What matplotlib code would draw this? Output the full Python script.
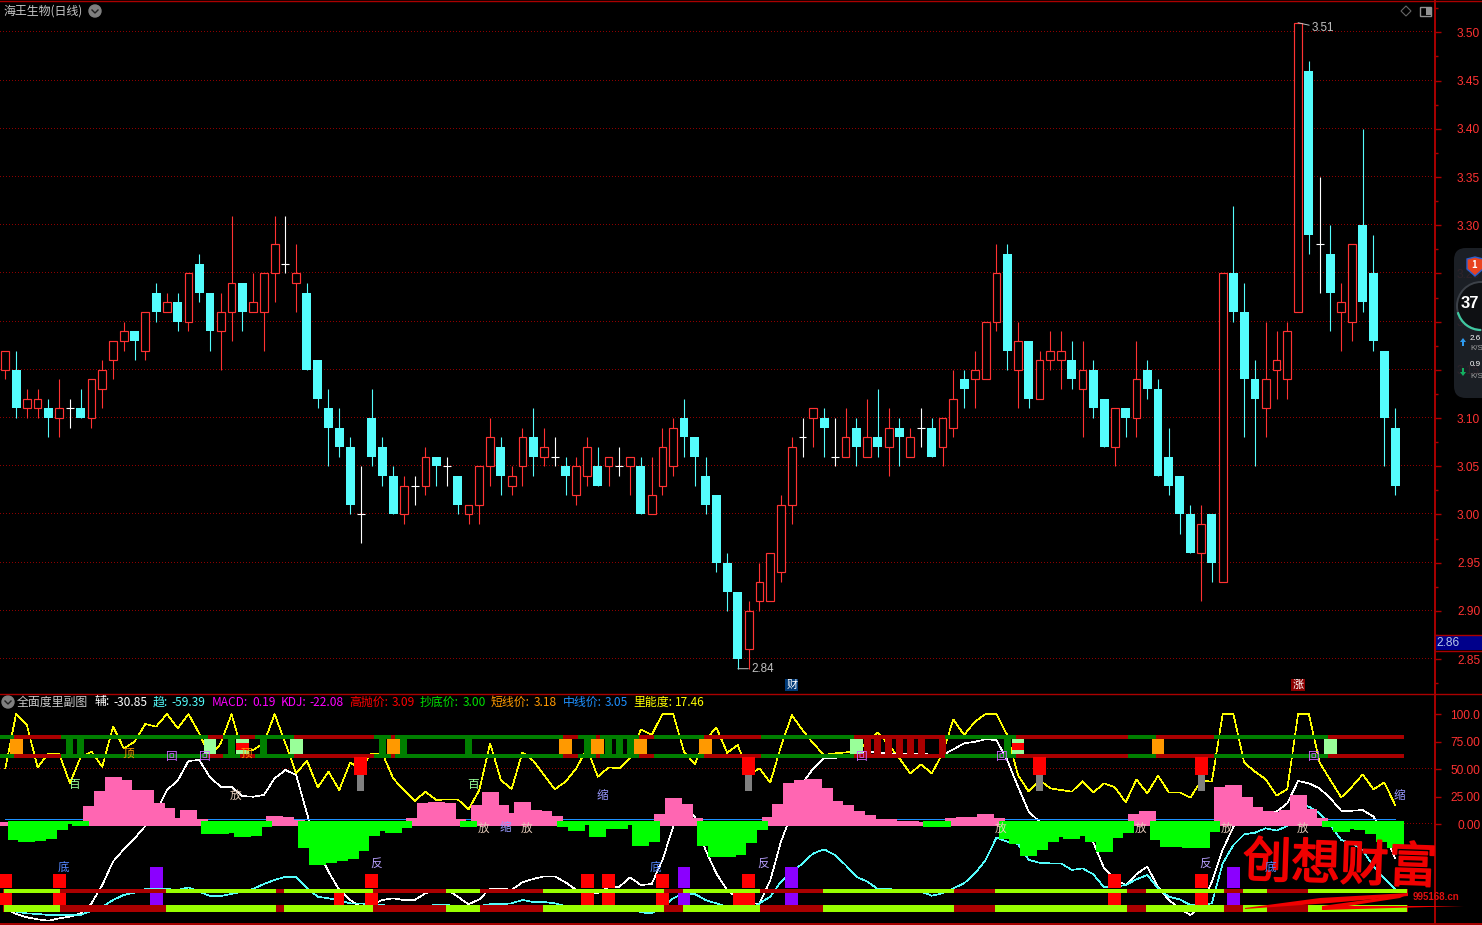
import matplotlib
matplotlib.use("Agg")
import matplotlib.pyplot as plt
import matplotlib.patheffects as pe
from matplotlib.patches import Circle, Rectangle, FancyBboxPatch, Polygon, Arc
import numpy as np

W, H = 1482, 925
cjk = ['Noto Sans CJK SC', 'DejaVu Sans']
plt.rcParams['font.family'] = cjk

# daily prices
opens = [3.15,3.15,3.11,3.11,3.11,3.10,3.11,3.11,3.10,3.13,3.16,3.18,3.19,3.17,3.23,3.21,3.22,3.20,3.26,3.23,
         3.19,3.21,3.24,3.21,3.21,3.25,3.26,3.24,3.23,3.16,3.11,3.09,3.07,3.00,3.10,3.07,3.04,3.00,3.03,3.03,
         3.06,3.05,3.04,3.00,3.01,3.05,3.07,3.03,3.05,3.08,3.06,3.06,3.05,3.02,3.04,3.05,3.05,3.05,3.05,3.05,
         3.00,3.03,3.05,3.10,3.08,3.04,3.02,2.95,2.92,2.86,2.91,2.91,2.94,3.01,3.08,3.10,3.10,3.06,3.06,3.09,
         3.06,3.08,3.07,3.09,3.06,3.09,3.09,3.07,3.09,3.14,3.14,3.14,3.20,3.27,3.15,3.18,3.12,3.16,3.16,3.16,
         3.13,3.15,3.12,3.07,3.11,3.10,3.15,3.13,3.06,3.04,3.00,2.96,3.00,2.93,3.25,3.21,3.14,3.11,3.15,3.14,
         3.21,3.46,3.28,3.27,3.21,3.20,3.30,3.25,3.17,3.09]
highs = [3.17,3.17,3.13,3.13,3.12,3.14,3.12,3.13,3.14,3.16,3.18,3.20,3.19,3.21,3.24,3.23,3.23,3.25,3.27,3.23,
         3.23,3.31,3.24,3.25,3.25,3.31,3.31,3.28,3.24,3.16,3.13,3.11,3.08,3.05,3.13,3.08,3.05,3.04,3.04,3.07,
         3.06,3.06,3.04,3.01,3.05,3.10,3.08,3.05,3.09,3.11,3.09,3.08,3.06,3.06,3.08,3.07,3.06,3.07,3.06,3.06,
         3.06,3.09,3.10,3.12,3.08,3.06,3.02,2.96,2.92,2.91,2.95,2.96,3.02,3.08,3.10,3.11,3.11,3.10,3.11,3.10,
         3.12,3.13,3.11,3.10,3.09,3.11,3.10,3.10,3.15,3.15,3.17,3.20,3.28,3.28,3.20,3.18,3.17,3.19,3.19,3.18,
         3.18,3.16,3.12,3.11,3.11,3.18,3.16,3.14,3.09,3.04,3.01,3.01,3.00,3.25,3.32,3.24,3.16,3.20,3.19,3.20,
         3.51,3.47,3.35,3.30,3.24,3.28,3.40,3.29,3.17,3.11]
lows = [3.14,3.10,3.10,3.10,3.08,3.08,3.09,3.10,3.09,3.11,3.14,3.17,3.16,3.16,3.20,3.21,3.19,3.19,3.22,3.17,
        3.15,3.18,3.19,3.21,3.17,3.22,3.25,3.21,3.15,3.11,3.05,3.06,3.00,2.97,3.05,3.03,3.00,2.99,3.01,3.02,
        3.03,3.03,3.00,2.99,2.99,3.03,3.02,3.02,3.03,3.04,3.05,3.05,3.02,3.01,3.03,3.03,3.03,3.04,3.02,3.00,
        3.00,3.02,3.04,3.06,3.03,3.00,2.94,2.90,2.84,2.84,2.90,2.91,2.93,2.99,3.06,3.07,3.06,3.05,3.06,3.05,
        3.06,3.06,3.04,3.05,3.06,3.07,3.06,3.05,3.08,3.11,3.11,3.14,3.19,3.15,3.11,3.11,3.12,3.15,3.13,3.13,
        3.08,3.10,3.07,3.05,3.08,3.08,3.12,3.04,3.02,2.98,2.96,2.91,2.93,2.93,3.20,3.08,3.05,3.08,3.12,3.12,
        3.21,3.27,3.23,3.19,3.17,3.18,3.21,3.17,3.05,3.02]
closes = [3.17,3.11,3.12,3.12,3.10,3.11,3.11,3.10,3.14,3.15,3.18,3.19,3.18,3.21,3.21,3.22,3.20,3.25,3.23,3.19,
          3.21,3.24,3.21,3.22,3.25,3.28,3.26,3.25,3.15,3.12,3.09,3.07,3.01,3.00,3.06,3.04,3.00,3.03,3.03,3.06,
          3.05,3.05,3.01,3.01,3.05,3.08,3.04,3.04,3.08,3.06,3.07,3.06,3.04,3.05,3.07,3.03,3.06,3.05,3.06,3.00,
          3.02,3.07,3.09,3.08,3.06,3.01,2.95,2.92,2.85,2.90,2.93,2.96,3.01,3.07,3.08,3.11,3.09,3.06,3.08,3.07,
          3.08,3.07,3.09,3.08,3.08,3.09,3.06,3.10,3.12,3.13,3.15,3.20,3.25,3.17,3.18,3.12,3.16,3.17,3.17,3.14,
          3.15,3.11,3.07,3.11,3.10,3.14,3.13,3.04,3.03,3.00,2.96,2.99,2.95,3.25,3.21,3.14,3.12,3.14,3.16,3.19,
          3.51,3.29,3.28,3.23,3.22,3.28,3.22,3.18,3.10,3.03]

# lower panel lines
yellow_line = [50.6,100,90,51.5,64,64,37,61,65.7,52,88.5,68.8,74.8,90.9,88.5,100,87,100,82.4,61.2,
               73.3,100,65.7,67.3,73.3,100,73.3,46,57.6,33.3,47.6,30.9,55.7,50.6,64.2,64.2,41.5,30.9,20.9,29.4,
               21.8,22.4,22.4,13.3,30.9,73.3,40,31.8,65.1,57.6,44.5,31.5,38.5,50.6,68.8,43,51.5,50.6,59.7,86,
               80.9,100,100,65.7,54.5,76.3,87.9,64.8,71.8,44.5,50.6,37.6,70.3,99,85.4,73.3,62.7,64.2,65.1,65.7,
               74.8,83.3,71.8,59.7,46,54.2,46,64.2,95.1,80.9,93,100,100,80.9,44.5,29.4,40,32.4,30.9,29.4,
               39,28.8,37,33.3,19.7,40.6,27.9,43.9,28.8,28.8,23.9,39.4,38.5,100,100,55.7,47.6,40.6,25.7,31.8,
               100,100,55.7,40,24.2,33.9,45.1,31.5,37.9,17.46]
white_line = [-76.7,-81.8,-84.8,-86.7,-87.9,-85.8,-84.2,-81.2,-72.1,-55.5,-34.2,-23,-13,-1.8,11.2,30.9,39.4,57.3,58.2,42.4,
              33.9,33.9,25.4,24.8,26.4,41.5,49.1,44.5,9.7,-23.6,-43.3,-60,-69.1,-75.2,-73.6,-69.1,-67.6,-69.1,-69.1,-63,
              -60,-59.4,-66.1,-73,-68.5,-58.5,-58.5,-60,-53,-50,-47.6,-47.6,-53,-60,-61.5,-63,-57,-57,-48.5,-55.5,
              -54.5,-32.7,-2.4,15.8,6.7,-23.6,-44.9,-60,-67.6,-72.1,-72.1,-51.5,-16,9.7,37,50.6,59.7,59.7,62.7,64.2,
              65.7,65.1,64.2,64.2,64.2,64.2,62.7,62.7,67.9,73.3,74.8,77,76.3,58.2,33.9,11.2,2.1,2.1,2.1,0.6,
              -7,-17,-40.3,-50.3,-55.5,-45.5,-38.8,-57,-69.1,-76.7,-82.7,-75.2,-52.4,-23.6,-2.4,6.7,8.2,9.7,11.2,18.8,
              39.1,37,32.4,23.3,12.1,12.1,12.7,6.7,-8.5,-30.85]
cyan_line = [-78.2,-79.7,-81.2,-81.8,-82.7,-82.7,-82.7,-82.7,-78.8,-75.2,-69.1,-64.5,-62.4,-59.1,-58.5,-59.1,-60,-57.6,-61.5,-65.5,
             -65.5,-63.6,-61.5,-59.1,-54.5,-50.9,-47.9,-47.9,-58.5,-66.1,-67.6,-69.1,-72.1,-72.1,-73.6,-73.6,-75.2,-75.2,-75.2,-74.5,
             -73.6,-73.6,-75.2,-75.2,-74.5,-73,-73,-72.1,-69.1,-70.9,-70.9,-72.1,-74.5,-75.2,-75.2,-75.2,-75.2,-75.2,-76.7,-80.3,
             -81.2,-75.2,-67.6,-63,-63.6,-69.1,-72.1,-75.2,-79.7,-79.7,-72.1,-66.1,-52.4,-44.2,-35.8,-26.7,-23,-28.2,-37.3,-47.9,
             -52.4,-59.1,-59.1,-60,-60,-61.5,-65.2,-63,-58.5,-53.9,-44.9,-32.7,-12.4,-16,-18.2,-32.7,-35.2,-35.8,-35.8,-41.8,
             -40.3,-45.8,-57.6,-57,-55.5,-50.3,-46.4,-58.5,-66.1,-68.5,-73.6,-73.6,-72.1,-35.8,-19.1,-9.4,-7.9,-3.9,-6,-1.8,
             18.8,15.8,9.7,-0.9,-14.5,-17.6,-23.6,-38.8,-49.4,-59.39]

# lower panel histogram
pink_idx = [0,8,9,10,11,12,13,14,15,16,17,18,25,26,27,38,39,40,41,42,44,45,46,47,48,49,50,51,61,62,63,64,
            71,72,73,74,75,76,77,78,79,80,81,82,83,84,85,88,89,90,91,92,105,106,113,114,115,116,117,118,119,120,121,122]
pink_vals = [1.8,16.4,30,42.7,40,30.9,30.9,19.1,14.5,5.5,12.7,4.5,7.3,6.4,3.6,5.5,19.1,20,19.1,4.5,17.3,29.1,17.3,10,20,12.7,11.8,7.3,9.1,23.6,18.2,5.5,
             6.4,18.2,37.3,40,40.9,32.7,20.9,17.3,11.8,8.2,4.5,4.5,2.7,2.7,1.8,5.5,6.4,6.4,9.1,5.5,9.1,11.8,33.6,35.5,24.5,15.5,11.8,10.9,12.7,26.4,13.6,5.5]
green_idx = [1,2,3,4,5,6,7,19,20,21,22,23,24,28,29,30,31,32,33,34,35,36,37,43,52,53,54,55,56,57,58,59,60,
             65,66,67,68,69,70,86,87,93,94,95,96,97,98,99,100,101,102,103,104,107,108,109,110,111,112,123,124,125,126,127,128,129]
green_vals = [-14.5,-16.4,-15.5,-13.6,-5.5,0,-1.8,-9.1,-9.1,-8.2,-11.8,-10.9,-2.7,-21.8,-37.3,-35.5,-33.6,-31.8,-24.5,-10.9,-6.4,-8.2,-3.6,-2.7,-2.7,-6.4,-0.9,-11.8,-4.5,-4.5,-0.9,-20,-16.4,
              -20,-30,-30,-28.2,-17.3,-5.5,-2.7,-2.7,-13.6,-18.2,-29.1,-23.6,-16.4,-11.8,-13.6,-10.9,-16.4,-25.5,-12.7,-8.2,-14.5,-20.9,-20.9,-21.8,-21.8,-7.3,-2.7,-7.3,-4.5,-5.5,-9.1,-16.4,-21.8]

# signal bands, runs of candle numbers
red_runs = [(1,5),(19,20),(22,23),(27,34),(36,36),(52,53),(55,55),(59,60),(65,70),(79,87),(94,104),(107,112),(123,129.6)]
green_conn = [6,7,21,24,35,37,43,54,56,57,58,93]
red_conn = [80,81,82,83,84,85,87]
orange_box = [1,36,52,55,59,65,107]
light_box = [19,22,27,79,94,123]
red_on_light = [22,94]
hang_idx = [33,69,96,111]
lime_runs = [(0,5),(15,25),(26,34),(41,44),(50,61),(63,70),(76,88),(92,104),(106,113),(115,117),(121,130)]
red_blocks = [0,5,34,54,56,61,69,103,111]
red_low_only = [31,68]
purple_blocks = [14,63,73,114]

sub_labels = [(6,35.5,'百','#99FF99'),(43,35.5,'百','#99FF99'),
              (11,64.5,'顶','#FF9900'),(22,64.5,'顶','#FF9900'),
              (15,61,'回','#CC66FF'),(18,61,'回','#CC66FF'),(79,61,'回','#CC66FF'),(92,61,'回','#CC66FF'),(121,61,'回','#CC66FF'),
              (21,26,'放','#E8CDBB'),(44,-3.6,'放','#E8CDBB'),(48,-3.6,'放','#E8CDBB'),(92,-3.6,'放','#E8CDBB'),
              (105,-3.6,'放','#E8CDBB'),(113,-3.6,'放','#E8CDBB'),(120,-3.6,'放','#E8CDBB'),
              (46,-3.6,'缩','#9999FF'),(55,26,'缩','#9999FF'),(129,26,'缩','#9999FF'),
              (5,-39,'底','#5588FF'),(60,-39,'底','#5588FF'),(117,-39,'底','#5588FF'),
              (34,-35.5,'反','#B8A0FF'),(70,-35.5,'反','#B8A0FF'),(111,-35.5,'反','#B8A0FF')]

header = [(17,'全面度里副图','#C8C8C8'),(95,'辅:','#FFFFFF'),(113,'-30.85','#FFFFFF'),
          (153,'趋:','#54FCFC'),(171,'-59.39','#54FCFC'),(212,'MACD:','#FF00FF'),(252,'0.19','#FF00FF'),
          (281,'KDJ:','#FF00FF'),(309,'-22.08','#FF00FF'),(349,'高抛价:','#FF0000'),(392,'3.09','#FF0000'),
          (420,'抄底价:','#00E000'),(463,'3.00','#00E000'),(491,'短线价:','#FF9900'),(534,'3.18','#FF9900'),
          (563,'中线价:','#1E90FF'),(605,'3.05','#1E90FF'),(633,'里能度:','#FFFF00'),(675,'17.46','#FFFF00')]

price_ticks = [2.85,2.90,2.95,3.00,3.05,3.10,3.15,3.20,3.25,3.30,3.35,3.40,3.45,3.50]
sub_ticks = [0,25,50,75,100]
sub_ticklabels = ['0.00','25.00','50.00','75.00','100.0']

RED = '#FF3232'
CYAN = '#54FCFC'
AXRED = '#AA0000'
GRID = '#8C0000'
num = np.arange(len(closes))
opens, highs, lows, closes = map(np.array, (opens, highs, lows, closes))

fig = plt.figure(figsize=(W/100, H/100), dpi=100, facecolor='black')
xlim = (-0.492, 132.71)
ax = fig.add_axes([0, (H-693)/H, 1435/W, 693/H], facecolor='black')
ax2 = fig.add_axes([0, (H-923)/H, 1435/W, 230/H], facecolor='black')
ax.set_xlim(xlim)
ax2.set_xlim(xlim)
ax.set_ylim(2.8148, 3.5336)
ax2.set_ylim(-90.0, 119.1)

# one dot every 3 pixels for the dotted grid
grid_x = np.arange(xlim[0], xlim[1], 3*(xlim[1]-xlim[0])/1435)


def dot_line(a, y):
    a.plot(grid_x, np.full(grid_x.shape, y), ls='none', marker=',', color=GRID, zorder=1)


for a in (ax, ax2):
    for s in ('left', 'top', 'bottom'):
        a.spines[s].set_visible(False)
    a.spines['right'].set_color(AXRED)
    a.spines['right'].set_linewidth(1.4)
    a.set_xticks([])
    a.yaxis.tick_right()

# candles
for p in price_ticks:
    dot_line(ax, p)
up = closes > opens
down = closes < opens
flat = closes == opens
ax.vlines(num[up], lows[up], highs[up], color=RED, lw=0.8, zorder=2)
ax.bar(num[up], (closes-opens)[up], 0.72, bottom=opens[up], facecolor='black', edgecolor=RED, linewidth=0.85, zorder=3)
ax.vlines(num[down], lows[down], highs[down], color=CYAN, lw=0.8, zorder=2)
ax.bar(num[down], (opens-closes)[down], 0.83, bottom=closes[down], color=CYAN, linewidth=0, zorder=3)
ax.vlines(num[flat], lows[flat], highs[flat], color='white', lw=0.8, zorder=2)
ax.hlines(closes[flat], num[flat]-0.37, num[flat]+0.37, color='white', lw=0.8, zorder=2)

ax.set_yticks(price_ticks)
ax.set_yticklabels(['%.2f' % p for p in price_ticks], fontfamily='Liberation Sans')
ax.set_yticks(np.arange(2.825, 3.53, 0.05), minor=True)
ax.tick_params(axis='y', which='major', colors=RED, length=4.5, width=1, pad=28, labelsize=8.6, color=AXRED)
ax.tick_params(axis='y', which='minor', length=2.5, width=1, color=AXRED)
for t in ax.get_yticklabels():
    t.set_ha('right')

ax.annotate('3.51', xy=(120, 3.51), xytext=(10, -4), textcoords='offset points', color='#C0C0C0', fontsize=8.4,
            family='Liberation Sans', va='center', arrowprops=dict(arrowstyle='-', color='#C0C0C0', lw=0.7, shrinkA=0, shrinkB=0))
ax.annotate('2.84', xy=(68, 2.84), xytext=(9.5, 0), textcoords='offset points', color='#C0C0C0', fontsize=8.4,
            family='Liberation Sans', va='center', arrowprops=dict(arrowstyle='-', color='#C0C0C0', lw=0.7, shrinkA=0, shrinkB=0))
ax.text(73, 2.823, '财', color='white', fontsize=8, ha='center', va='center',
        bbox=dict(facecolor='#003A78', edgecolor='none', pad=0.8))
ax.text(120, 2.823, '涨', color='white', fontsize=8, ha='center', va='center',
        bbox=dict(facecolor='#8B0000', edgecolor='none', pad=0.8))

# lower panel
dot_line(ax2, 50)
dot_line(ax2, 0)
ax2.plot(num, yellow_line, color='#FFFF00', lw=0.45, antialiased=False, zorder=2)
ax2.plot(num, white_line, color='white', lw=0.45, antialiased=False, zorder=2)
ax2.plot(num, cyan_line, color=CYAN, lw=0.45, antialiased=False, zorder=2)
ax2.plot([0, 129], [4.1, 4.1], color='#1E90FF', lw=0.72, zorder=2)

base = -1.8
ax2.bar(pink_idx, np.array(pink_vals)-base, 1.58, bottom=base, color='#FF66B2', linewidth=0, zorder=3)
ax2.bar(green_idx, np.array(green_vals)-2.7, 1.58, bottom=2.7, color='#00FF00', linewidth=0, zorder=3)


def box(a, x, top, bottom, width, color, z=5):
    a.bar(x, top-bottom, width, bottom=bottom, color=color, linewidth=0, zorder=z)


# upper double band
for yy in (79.1, 61.8):
    box(ax2, 64.5, yy+1.8, yy-1.8, 130, '#007F00', 4)
    for a0, b0 in red_runs:
        box(ax2, (a0+b0)/2, yy+1.8, yy-1.8, b0-a0+0.38, AXRED, 4)
box(ax2, green_conn, 77.3, 63.6, 0.65, '#007F00', 4)
box(ax2, red_conn, 77.3, 63.6, 0.65, AXRED, 4)
box(ax2, orange_box, 77.3, 63.6, 1.2, '#FF9900')
box(ax2, light_box, 77.3, 63.6, 1.2, '#99FF99')
box(ax2, red_on_light, 73.6, 67.3, 1.2, '#FF0000', 6)
box(ax2, hang_idx, 60.9, 44.5, 1.2, '#FF0000')
box(ax2, hang_idx, 44.5, 30, 0.65, '#808080')

# lower double band
for top, bot in ((-59.1, -62.7), (-73.6, -80)):
    box(ax2, 65, top, bot, 130.4, AXRED, 4)
    for a0, b0 in lime_runs:
        box(ax2, (a0+b0)/2, top, bot, b0-a0+0.2, '#99FF00', 4)
box(ax2, red_blocks, -45.5, -58.2, 1.2, '#FF0000')
box(ax2, red_blocks, -62.7, -73.6, 1.2, '#FF0000')
box(ax2, red_low_only, -62.7, -73.6, 0.95, '#FF0000')
box(ax2, purple_blocks, -39.1, -58.2, 1.2, '#8B00FF')
box(ax2, purple_blocks, -62.7, -73.6, 1.2, '#8B00FF')

for i, v, s, c in sub_labels:
    ax2.text(i-0.15, v, s, color=c, fontsize=8.4, ha='left', va='center', zorder=7)

ax2.set_yticks(sub_ticks)
ax2.set_yticklabels(sub_ticklabels, fontfamily='Liberation Sans')
ax2.tick_params(axis='y', colors=RED, length=4, width=1, pad=28.5, labelsize=8.6, color=AXRED)
for t in ax2.get_yticklabels():
    t.set_ha('right')

# pixel overlay for window furniture
ov = fig.add_axes([0, 0, 1, 1], facecolor='none', zorder=10)
ov.set_xlim(0, W)
ov.set_ylim(H, 0)
ov.axis('off')

ov.plot([0, W], [693.5, 693.5], color=AXRED, lw=1)
ov.plot([0, W], [923.5, 923.5], color=AXRED, lw=1.4)
ov.plot([0, W], [0.8, 0.8], color=AXRED, lw=1)

ov.text(3, 11, '海王生物(日线)', color='#C8C8C8', fontsize=8.6, va='center')
for cx, cy in ((95, 11), (8, 702)):
    ov.add_patch(Circle((cx, cy), 6, color='#808080'))
    ov.plot([cx-3, cx, cx+3], [cy-1, cy+2, cy-1], color='#202020', lw=1)
for xx, s, c in header:
    ov.text(xx, 702, s, color=c, fontsize=8.6, va='center')

# top right icons
ov.add_patch(Polygon([(1406, 6), (1411, 11), (1406, 16), (1401, 11)], fill=False, edgecolor='#666666', lw=0.8))
ov.add_patch(Rectangle((1420, 6.5), 11, 9, fill=False, edgecolor='#909090', lw=1))
ov.add_patch(Rectangle((1426, 7), 4.5, 8, color='#909090', lw=0))

# last price box
ov.add_patch(Rectangle((1436, 635), 46, 15, facecolor='#00008B', edgecolor='none'))
ov.plot([1436, W], [634.5, 634.5], color=AXRED, lw=1)
ov.plot([1436, W], [650.5, 650.5], color=AXRED, lw=1)
ov.text(1436, 642.5, '2.86', color='#B8C8E8', fontsize=8.6, family='Liberation Sans', va='center')

# floating speed widget
ov.add_patch(FancyBboxPatch((1454, 248), 60, 150, boxstyle='round,pad=0,rounding_size=12', facecolor='#1E2229',
                            edgecolor='none', alpha=0.93))
ov.add_patch(Polygon([(1467, 259), (1475, 257), (1483, 259), (1483, 269), (1475, 276), (1467, 269)],
                     facecolor='#E8431F', edgecolor='#2A5FD0', lw=1))
ov.text(1474.5, 265.5, '1', color='white', fontsize=7, fontweight='bold', ha='center', va='center')
ov.add_patch(Circle((1481, 306), 24, facecolor='#0E1013', edgecolor='#3C4148', lw=1.4))
ov.add_patch(Arc((1481, 306), 48, 48, theta1=90, theta2=165, color='#3FC8A0', lw=1.6))
ov.text(1461, 304, '37', color='white', fontsize=12, fontweight='bold', family='Liberation Sans', va='center')
ov.text(1470, 338, '2.6', color='white', fontsize=5.8, family='Liberation Sans', va='center')
ov.text(1470, 348, 'K/S', color='#A0A0A0', fontsize=5.8, family='Liberation Sans', va='center')
ov.text(1470, 364.5, '0.9', color='white', fontsize=5.8, family='Liberation Sans', va='center')
ov.text(1470, 376, 'K/S', color='#A0A0A0', fontsize=5.8, family='Liberation Sans', va='center')
ov.add_patch(Polygon([(1463, 338), (1466, 342), (1464, 342), (1464, 346), (1462, 346), (1462, 342), (1460, 342)], color='#2E9BF0', lw=0))
ov.add_patch(Polygon([(1463, 376), (1466, 372), (1464, 372), (1464, 368), (1462, 368), (1462, 372), (1460, 372)], color='#12B060', lw=0))

# watermark
wm = ax2.text(1340, 866, '创想财富', color='#F00000', fontsize=35, ha='center', va='center', rotation=-2,
              transform=ov.transData, zorder=6)
wm.set_path_effects([pe.withStroke(linewidth=1.2, foreground='#F00000')])
ov.text(1413, 897, '995168.cn', color='#E01010', fontsize=7, fontweight='bold', family='Liberation Sans', va='center')
ov.add_patch(Polygon([(1245, 908), (1320, 898), (1408, 893), (1408, 896), (1330, 903), (1245, 909)], color='#F00000', lw=0))
ov.add_patch(Polygon([(1408, 894), (1322, 906), (1322, 910), (1400, 898)], color='#F00000', lw=0))
ov.add_patch(Polygon([(1322, 906), (1464, 906), (1322, 910)], color='#F00000', lw=0))

fig.savefig('out.png', dpi=100, facecolor='black')
